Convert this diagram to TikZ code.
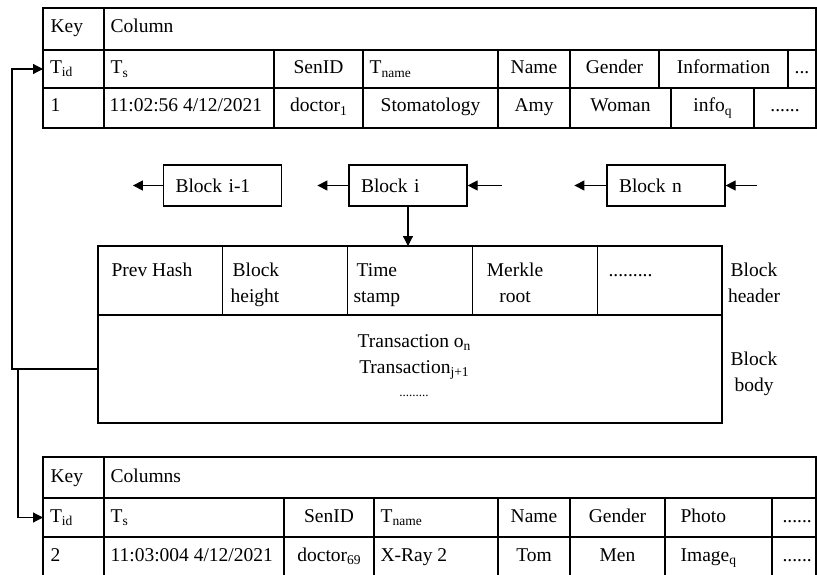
\documentclass[tikz,border=0pt]{standalone}
\usepackage{fontspec}
\setmainfont{Liberation Serif}
\usetikzlibrary{arrows.meta,positioning}

\newcommand{\lowsub}[1]{\raisebox{-0.35ex}{\fontsize{13.5}{14}\selectfont #1}}

\tikzset{
  blk/.style={draw, minimum width=118pt, minimum height=41pt, inner xsep=12pt, text width=94pt, align=left},
  hcell/.style={draw, anchor=north west, outer sep=0pt, minimum width=124.8pt, minimum height=69pt},
  keycell/.style={anchor=north west, outer sep=0pt, minimum width=61pt, inner xsep=7pt, text width=47pt, align=left},
  txt/.style={anchor=base west, inner sep=0pt},
  ctxt/.style={anchor=base, inner sep=0pt},
  link/.style={-{Triangle[length=10pt,width=10pt]}},
}

\begin{document}
\begin{tikzpicture}[x=1pt, y=-1pt, line width=1.2pt, font=\fontsize{19.5}{26}\selectfont]
    \useasboundingbox (0,0) rectangle (817,575);

    % upper table
    \draw (43,8) rectangle (816,128);
    \draw (43,50) -- (816,50);
    \draw (43,88) -- (816,88);
    \draw (104,8) -- (104,128);
    \foreach \x in {274,363,498,570,659,788} \draw (\x,50) -- (\x,88);
    \foreach \x in {274,363,498,570,671,754} \draw (\x,88) -- (\x,128);

    \node[txt] at (50,33) {Key};
    \node[txt] at (110,33) {Column};
    \node[keycell, minimum height=38pt] (tid1) at (43,50) {T\lowsub{id}};
    \node[txt] at (110,74) {T\lowsub{s}};
    \node[ctxt] at (318.5,74) {SenID};
    \node[txt] at (369,74) {T\lowsub{name}};
    \node[ctxt] at (534,74) {Name};
    \node[ctxt] at (614.5,74) {Gender};
    \node[ctxt] at (723.5,74) {Information};
    \node[ctxt] at (802,74) {...};
    \node[txt] at (50,112) {1};
    \node[txt] at (109,112) {11:02:56 4/12/2021};
    \node[ctxt] at (318.5,112) {doctor\lowsub{1}};
    \node[ctxt] at (430.5,112) {Stomatology};
    \node[ctxt] at (534,112) {Amy};
    \node[ctxt] at (620.5,112) {Woman};
    \node[ctxt] at (712.5,112) {info\lowsub{q}};
    \node[ctxt] at (785,112) {......};

    % chain of blocks
    \node[blk] (blkprev) at (222.5,185.5) {Block i-1};
    \node[blk] (blki) at (408,185.5) {Block i};
    \node[blk] (blkn) at (666,185.5) {Block n};
    \coordinate[left=30pt of blkprev] (outA);
    \coordinate[left=31pt of blki] (outB);
    \coordinate[right=34pt of blki] (inB);
    \coordinate[left=32pt of blkn] (outC);
    \coordinate[right=31pt of blkn] (inC);

    \draw[link] (blkprev.west) -- (outA);
    \draw[link] (blki.west) -- (outB);
    \draw[link] (inB) -- (blki.east);
    \draw[link] (blkn.west) -- (outC);
    \draw[link] (inC) -- (blkn.east);

    % block header and body
    \foreach \i in {1,...,5}
        \node[hcell] (hdr\i) at ({98+(\i-1)*124.8},246) {};
    \node[draw, anchor=north west, outer sep=0pt, minimum width=624pt, minimum height=108pt] (body) at (98,315) {};

    \node[txt] at (111,276) {Prev Hash};
    \node[txt] at (232,276) {Block};
    \node[txt] at (230,302.7) {height};
    \node[txt] at (356,276) {Time};
    \node[txt] at (353,302.7) {stamp};
    \node[ctxt] at (515,276) {Merkle};
    \node[ctxt] at (515,302.7) {root};
    \node[txt] at (608,276) {.........};

    \node[ctxt] at (754,276) {Block};
    \node[ctxt] at (754,302.7) {header};
    \node[ctxt] at (754,365) {Block};
    \node[ctxt] at (754,391.7) {body};

    \node[ctxt] at (414,347) {Transaction o\lowsub{n}};
    \node[ctxt] at (414,373) {Transaction\lowsub{j+1}};
    \node[ctxt, font=\fontsize{13}{15}\selectfont] at (414,396) {.........};

    \draw[link] (blki.south) -- (blki.south |- hdr3.north);

    % lower table
    \draw (43,575) -- (43,457) -- (816,457) -- (816,575);
    \draw (43,498) -- (816,498);
    \draw (43,537) -- (816,537);
    \draw (104,457) -- (104,575);
    \foreach \x in {284,374,498,570,665,772} \draw (\x,498) -- (\x,575);

    \node[txt] at (50,482) {Key};
    \node[txt] at (110,482) {Columns};
    \node[keycell, minimum height=39pt] (tid2) at (43,498) {T\lowsub{id}};
    \node[txt] at (110,522) {T\lowsub{s}};
    \node[ctxt] at (329,522) {SenID};
    \node[txt] at (380,522) {T\lowsub{name}};
    \node[ctxt] at (534,522) {Name};
    \node[ctxt] at (617.5,522) {Gender};
    \node[txt] at (680,522) {Photo};
    \node[txt] at (782,522) {......};
    \node[txt] at (50,561) {2};
    \node[txt] at (110,561) {11:03:004 4/12/2021};
    \node[ctxt] at (329,561) {doctor\lowsub{69}};
    \node[txt] at (380,561) {X-Ray 2};
    \node[ctxt] at (534,561) {Tom};
    \node[ctxt] at (617.5,561) {Men};
    \node[txt] at (680,561) {Image\lowsub{q}};
    \node[txt] at (782,561) {......};

    % links from the block body to the tables
    \coordinate (railA) at (12,0);
    \coordinate (railB) at (18,0);
    \draw[link] (body.west) -- (body.west -| railA) |- (tid1.west);
    \draw[link] (body.west -| railB) |- (tid2.west);
\end{tikzpicture}
\end{document}
